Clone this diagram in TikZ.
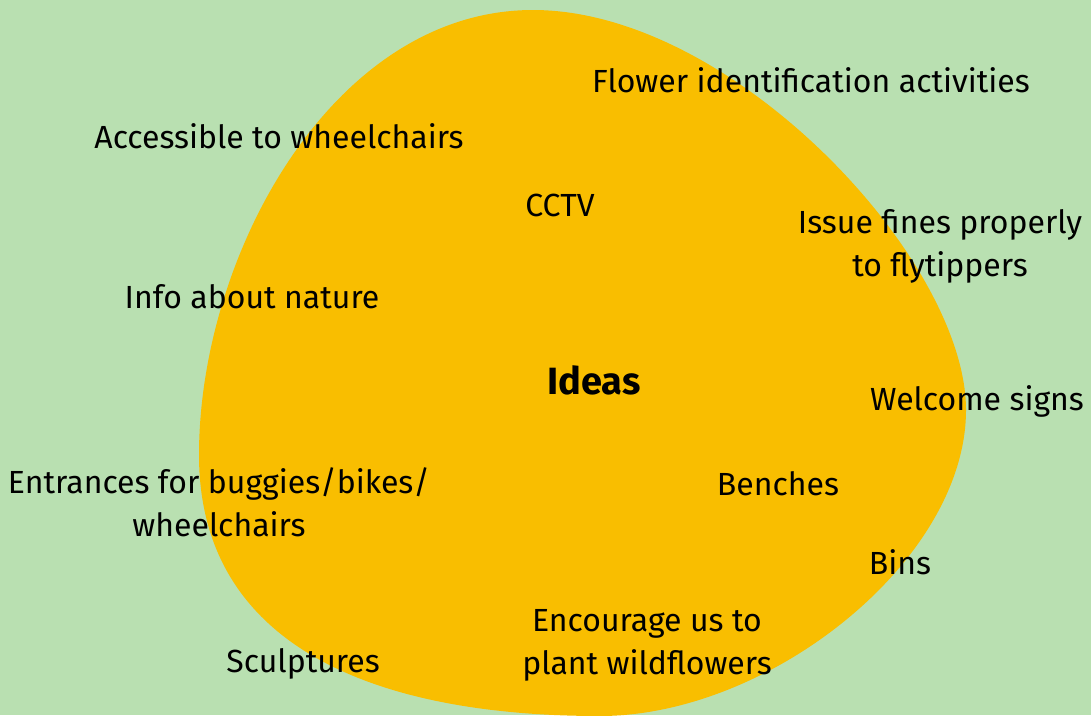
\documentclass[tikz,border=0pt]{standalone}
\usepackage{fontspec}
\setmainfont{Fira Sans}
\usepackage{tikz}
\definecolor{meadow}{HTML}{B9E0B1}
\definecolor{blob}{HTML}{F9BE00}

\begin{document}
\begin{tikzpicture}[x=1pt,y=-1pt,
    idea/.style={align=center,inner sep=0pt,font=\fontsize{32}{43}\selectfont},
    title/.style={idea,font=\fontsize{38}{43}\selectfont\bfseries}]
  % Boundary
  \fill[meadow] (0,0) rectangle (1091,715);
  \useasboundingbox (0,0) rectangle (1091,715);
  % Blob
  \fill[blob] (533,10) .. controls (733,10) and (966,260) .. (966,410)
    .. controls (966,560) and (770,716) .. (600,716)
    .. controls (364,716) and (199,640) .. (199,455)
    .. controls (199,255) and (333,10) .. cycle;
  % Centre
  \node[title] (ideas) at (594,380) {Ideas};
  % Ideas round it
  \node[idea] (flower) at (811,80) {Flower identification activities};
  \node[idea] (access) at (279,136) {Accessible to wheelchairs};
  \node[idea] (cctv) at (560,205) {CCTV};
  \node[idea] (fines) at (940,246) {Issue fines properly\\to flytippers};
  \node[idea] (info) at (252,297) {Info about nature};
  \node[idea] (welcome) at (977,401) {Welcome signs};
  \node[idea] (entrances) at (219,502) {Entrances for buggies/bikes/\\wheelchairs};
  \node[idea] (benches) at (778,484) {Benches};
  \node[idea] (bins) at (900,562) {Bins};
  \node[idea] (plant) at (647,645) {Encourage us to\\plant wildflowers};
  \node[idea] (sculpt) at (303,664) {Sculptures};
\end{tikzpicture}
\end{document}
